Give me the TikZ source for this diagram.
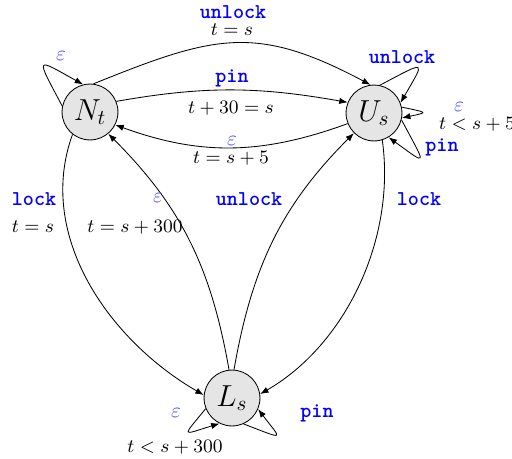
\documentclass[tikz,border=0pt]{standalone}
\usetikzlibrary{arrows.meta}
\definecolor{epscol}{RGB}{80,80,255}
\begin{document}
\begin{tikzpicture}[x=0.474pt,y=-0.474pt,
  state/.style={circle,draw,fill=black!10,minimum size=26.5pt,inner sep=0pt,font=\Large},
  edge/.style={-{Latex[length=4pt,width=3pt]}},
  act/.style={text=blue,font=\ttfamily\bfseries,inner sep=0pt},
  eps/.style={text=epscol,inner sep=0pt},
  grd/.style={font=\small,inner sep=0pt}]
\useasboundingbox (0,0) rectangle (512,458);
\node[state] (Nt) at (90,112) {$N_t$};
\node[state] (Us) at (374,113) {$U_s$};
\node[state] (Ls) at (232,398) {$L_s$};

% N_t -> U_s (unlock, top)
\draw[edge] (Nt.83) to[out=22,in=152,looseness=1.2] (Us.97);
\node[act] (a1) at (233,12) {unlock};
\node[grd] (g1) at (232,30) {$t=s$};
% N_t -> U_s (pin)
\draw[edge] (Nt.22) to[out=10,in=170] (Us.158);
\node[act] (a2) at (232,78) {pin};
\node[grd] (g2) at (231,108) {$t+30=s$};
% U_s -> N_t (eps)
\draw[edge] (Us.202) to[out=200,in=340] (Nt.-27);
\node[eps] (e3) at (232,141) {$\varepsilon$};
\node[grd] (g3) at (231,158) {$t=s+5$};
% N_t loop
\draw[edge] (Nt.168) .. controls +(118:27.5pt) and +(151:26pt) .. (Nt.104);
\node[eps] (e4) at (61,56) {$\varepsilon$};
% U_s loops
\draw[edge] (Us.78) .. controls +(28:25.7pt) and +(60:23.4pt) .. (Us.21);
\node[act] (a5) at (402,57) {unlock};
\draw[edge] (Us.12) .. controls +(-12:12.9pt) and +(12:12.9pt) .. (Us.-10);
\node[eps] (e6) at (459,107) {$\varepsilon$};
\node[grd] (g6) at (477,124) {$t<s+5$};
\draw[edge] (Us.-14) .. controls +(-62:25pt) and +(-36:23.6pt) .. (Us.-59);
\node[act] (a7) at (442,147) {pin};
% N_t -> L_s (lock)
\draw[edge] (Nt.232) to[out=250,in=150,looseness=0.95] (Ls.174);
\node[act] (a8) at (34,199) {lock};
\node[grd] (g8) at (33,227) {$t=s$};
% L_s -> N_t (eps)
\draw[edge] (Ls.96) to[out=100,in=-45] (Nt.-50);
\node[eps] (e9) at (158,198) {$\varepsilon$};
\node[grd] (g9) at (135,227) {$t=s+300$};
% L_s -> U_s (unlock)
\draw[edge] (Ls.86) to[out=80,in=225] (Us.225);
\node[act] (a10) at (249,199) {unlock};
% U_s -> L_s (lock)
\draw[edge] (Us.-73) to[out=-82,in=30,looseness=0.9] (Ls.8);
\node[act] (a11) at (419,199) {lock};
% L_s loops
\draw[edge] (Ls.202) .. controls +(231:17.9pt) and +(197:19.3pt) .. (Ls.244);
\node[eps] (e12) at (176,413) {$\varepsilon$};
\node[grd] (g12) at (175,447) {$t<s+300$};
\draw[edge] (Ls.-66) .. controls +(-21:22pt) and +(-53:18.4pt) .. (Ls.-23);
\node[act] (a13) at (317,413) {pin};
\end{tikzpicture}
\end{document}
